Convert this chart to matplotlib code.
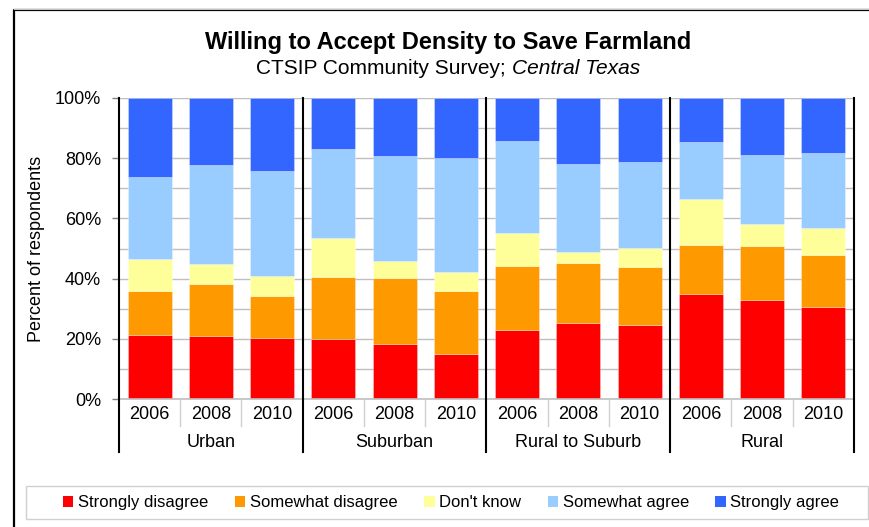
import matplotlib
matplotlib.use("Agg")
import matplotlib.pyplot as plt
import matplotlib.transforms as mtransforms
from matplotlib.patches import Patch, Rectangle
from matplotlib.lines import Line2D
import numpy as np

plt.rcParams['font.family'] = ['Liberation Sans', 'DejaVu Sans']

groups = ["Urban", "Suburban", "Rural to Suburb", "Rural"]
years = ["2006", "2008", "2010"]
series_names = ["Strongly disagree", "Somewhat disagree", "Don't know",
                "Somewhat agree", "Strongly agree"]
colors = ["#FF0000", "#FF9900", "#FFFF99", "#99CCFF", "#3366FF"]

# values in percent, order: Urban 06/08/10, Suburban ..., Rural to Suburb ..., Rural ...
strongly_disagree = [21.4, 20.9, 20.1, 19.8, 18.3, 15.1, 22.9, 25.3, 24.6, 34.9, 32.9, 30.6]
somewhat_disagree = [14.4, 17.3, 14.0, 20.6, 21.8, 20.7, 21.2, 20.0, 19.2, 16.3, 17.9, 17.4]
dont_know = [10.6, 6.6, 6.7, 13.0, 5.7, 6.3, 11.0, 3.6, 6.5, 15.1, 7.2, 8.8]
somewhat_agree = [27.3, 32.9, 35.0, 29.7, 35.0, 37.9, 30.5, 29.1, 28.5, 19.1, 23.0, 24.9]
strongly_agree = [26.3, 22.3, 24.2, 16.9, 19.2, 20.0, 14.4, 22.0, 21.2, 14.6, 19.0, 18.3]

series = [strongly_disagree, somewhat_disagree, dont_know, somewhat_agree, strongly_agree]

W, H = 869, 527
fig = plt.figure(figsize=(W / 100, H / 100), dpi=100)
ax = fig.add_axes([119 / W, 1 - 399 / H, (854 - 119) / W, (399 - 98) / H])

n = len(groups) * len(years)
x = np.arange(n)
bottom = np.zeros(n)
for vals, c, name in zip(series, colors, series_names):
    v = np.array(vals)
    ax.bar(x, v, 0.72, bottom=bottom, color=c, label=name, zorder=3,
           edgecolor=(1, 1, 1, 0.35), linewidth=0.6)
    bottom += v

ax.set_xlim(-0.5, n - 0.5)
ax.set_ylim(0, 100)
ax.set_yticks(np.arange(0, 101, 20))
ax.set_yticklabels([f"{t}%" for t in range(0, 101, 20)], fontsize=13)
ax.set_yticks(np.arange(0, 101, 10), minor=True)
ax.yaxis.grid(True, which='both', color='#BFBFBF', linewidth=1.0, zorder=0)
ax.tick_params(axis='y', which='major', length=5, width=1, pad=8, color='#808080')
ax.tick_params(axis='y', which='minor', length=0)
ax.set_ylabel("Percent of respondents", fontsize=13, labelpad=7)

for s in ['top', 'right', 'bottom', 'left']:
    ax.spines[s].set_visible(False)

ax.set_xticks(x)
ax.set_xticklabels(years * len(groups), fontsize=13)
ax.tick_params(axis='x', length=0, pad=5)

trans = mtransforms.blended_transform_factory(ax.transData, ax.transAxes)
# bottom axis line
ax.plot([-0.5, n - 0.5], [0, 0], color='#BFBFBF', lw=1.2, transform=trans, clip_on=False, zorder=4)
# year separators
for i in range(n - 1):
    if (i + 1) % len(years) != 0:
        ax.plot([i + 0.5, i + 0.5], [0, -0.09], color='#D0D0D0', lw=1.0,
                transform=trans, clip_on=False, zorder=4)
# group separators
for g in range(len(groups) + 1):
    xs = g * len(years) - 0.5
    ax.plot([xs, xs], [1, -0.177], color='black', lw=1.5, transform=trans,
            clip_on=False, zorder=5)
# group labels
for g, name in enumerate(groups):
    ax.text(g * len(years) + 1, -0.143, name, transform=trans, ha='center',
            va='center', fontsize=13)

# titles
cx = 448
fig.text(cx / W, 1 - 43 / H, "Willing to Accept Density to Save Farmland",
         ha='center', va='center', fontsize=17, fontweight='bold')
sub1 = "CTSIP Community Survey; "
sub2 = "Central Texas"
t1 = fig.text(0, 1 - 69 / H, sub1, ha='left', va='center', fontsize=15)
t2 = fig.text(0, 1 - 69 / H, sub2, ha='left', va='center', fontsize=15, style='italic')
fig.canvas.draw()
r = fig.canvas.get_renderer()
w1 = t1.get_window_extent(r).width
w2 = t2.get_window_extent(r).width
t1.set_x((cx - (w1 + w2) / 2) / W)
t2.set_x((cx - (w1 + w2) / 2 + w1) / W)

# outer frame (top and left visible)
fig.add_artist(Line2D([14 / W, 14 / W, 1.01], [-0.01, 1 - 10 / H, 1 - 10 / H],
                      color='black', lw=1.6, transform=fig.transFigure))
fig.add_artist(Line2D([14 / W, 1.01], [1 - 8.5 / H, 1 - 8.5 / H],
                      color='#C0C0C0', lw=0.8, transform=fig.transFigure))

# legend box
fig.add_artist(Rectangle((26 / W, 1 - 519 / H), (868 - 26) / W, 33 / H,
                         fill=False, edgecolor='#D0D0D0', lw=1.0,
                         transform=fig.transFigure))
handles = [Patch(facecolor=c, edgecolor='none') for c in colors]
fig.legend(handles, series_names, loc='center', bbox_to_anchor=(451 / W, 1 - 502.5 / H),
           ncol=5, frameon=False, fontsize=12, handlelength=0.65, handleheight=0.65,
           handletextpad=0.25, columnspacing=1.6, borderaxespad=0)

fig.savefig("out.png", dpi=100)
